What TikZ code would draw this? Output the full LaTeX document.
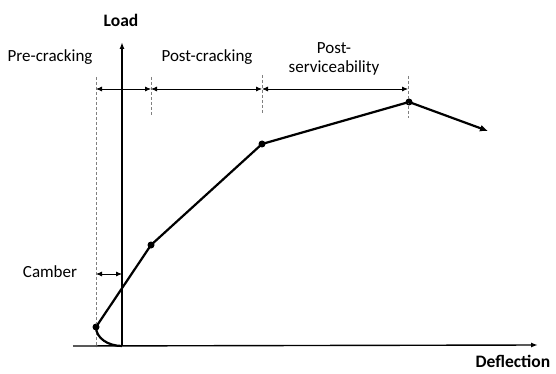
\documentclass[tikz,border=0pt]{standalone}
\usepackage{fontspec}
\setmainfont{Carlito}
\usetikzlibrary{arrows.meta}
\begin{document}
\begin{tikzpicture}[x=1pt,y=-1pt,
  lbl/.style={font=\fontsize{17}{19}\selectfont, inner sep=0pt},
  axlbl/.style={font=\fontsize{17.5}{19}\selectfont\bfseries, inner sep=0pt},
  axis/.style={line width=1.4pt, -{Latex[length=7pt,width=5pt]}},
  curve/.style={line width=2.2pt},
  guide/.style={gray, line width=0.8pt, dash pattern=on 3pt off 2pt},
  dim/.style={line width=0.8pt, {Latex[length=6pt,width=5pt]}-{Latex[length=6pt,width=5pt]}},
  pt/.style={circle, fill=black, inner sep=0pt, minimum size=7pt}]
\useasboundingbox (0,0) rectangle (556,374);

% axes
\coordinate (O) at (122,346);
\coordinate (ytip) at (122,42);
\coordinate (xstart) at (73,346);
\coordinate (xtip) at (538,345);
\draw[axis] (O) -- (ytip);
\draw[axis] (xstart) -- (xtip);
\node[axlbl] (load) at (121,20) {Load};
\node[axlbl] (defl) at (513,361) {Deflection};

% key points of the load-deflection response
\node[pt] (p0) at (96,327) {};
\node[pt] (p1) at (151,245) {};
\node[pt] (p2) at (262,144) {};
\node[pt] (p3) at (409,102) {};
\coordinate (pend) at (488,131);

% stage boundaries
\coordinate (g0t) at (96,77);  \coordinate (g0b) at (96,347);
\coordinate (g1t) at (151,77); \coordinate (g1b) at (151,116);
\coordinate (g2t) at (262,75); \coordinate (g2b) at (262,113);
\coordinate (g3t) at (408,76); \coordinate (g3b) at (408,118);
\draw[guide] (g0t) -- (g0b);
\draw[guide] (g1t) -- (g1b);
\draw[guide] (g2t) -- (g2b);
\draw[guide] (g3t) -- (g3b);

% stage extents
\coordinate (d0) at (96,89);
\coordinate (d1) at (151,89);
\coordinate (d2) at (262,89);
\coordinate (d3) at (408,89);
\draw[dim] (d0) -- (d1);
\draw[dim] (d1) -- (d2);
\draw[dim] (d2) -- (d3);

% camber
\coordinate (c0) at (96,274);
\coordinate (c1) at (122,274);
\draw[dim] (c0) -- (c1);

% response curve
\draw[curve] (O) .. controls (108,346) and (96,338) .. (p0.center);
\draw[curve] (p0.center) -- (p1.center) -- (p2.center) -- (p3.center);
\draw[curve, -{Latex[length=8pt,width=7pt]}] (p3.center) -- (pend);

% labels
\node[lbl] (pre) at (50,57) {Pre-cracking};
\node[lbl] (post) at (207,57) {Post-cracking};
\node[lbl, align=center] (serv) at (334,59) {Post-\\serviceability};
\node[lbl] (camb) at (50,272) {Camber};
\end{tikzpicture}
\end{document}
